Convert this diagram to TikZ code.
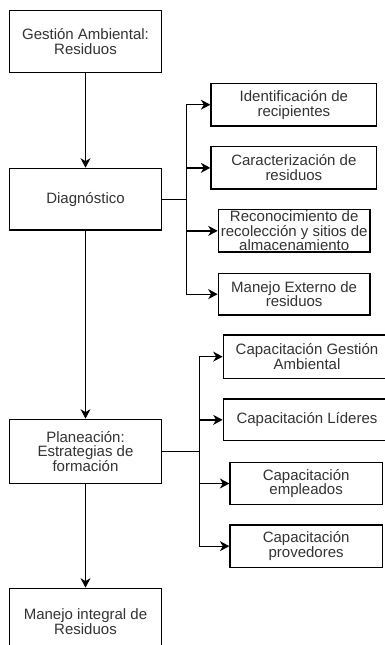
\documentclass[tikz,border=0pt]{standalone}
\usepackage{fontspec}
\setmainfont{Liberation Sans}
\usetikzlibrary{arrows.meta,calc}
\definecolor{txt}{HTML}{333333}
\tikzset{
  box/.style={draw=black, line width=1.3pt, fill=white, text=txt, align=center,
    inner sep=1pt, font=\fontsize{15}{14.7}\selectfont},
  arr/.style={draw=black, line width=1.3pt, -{Stealth[length=9.5pt,width=10pt,inset=3pt]}},
  ln/.style={draw=black, line width=1.3pt}
}
\begin{document}
\begin{tikzpicture}[x=1pt,y=-1pt]
\useasboundingbox (0,0) rectangle (385,645);
\clip (0,0) rectangle (385,645);
% left column
\node[box, minimum width=152.4pt, minimum height=62pt] (g) at (85.5,41.7) {Gestión Ambiental:\\Residuos};
\node[box, minimum width=152.4pt, minimum height=61.7pt] (d) at (85.5,199.2) {Diagnóstico};
\node[box, minimum width=152.4pt, minimum height=64pt] (p) at (85.5,451.3) {Planeación:\\Estrategias de\\formación};
\node[box, minimum width=152.4pt, minimum height=67pt] (m) at (85.5,621.8) {Manejo integral de\\Residuos};
% diagnostic branch
\node[box, minimum width=165.7pt, minimum height=42.7pt] (i1) at (293.85,104.7) {Identificación de\\recipientes};
\node[box, minimum width=165.7pt, minimum height=42.3pt] (i2) at (293.85,167.85) {Caracterización de\\residuos};
\node[box, minimum width=151.7pt, minimum height=41.7pt] (i3) at (294.2,230.85) {Reconocimiento de\\recolección y sitios de\\almacenamiento};
\node[box, minimum width=151.7pt, minimum height=41.7pt] (i4) at (294.15,294.15) {Manejo Externo de\\residuos};
% planning branch
\node[box, minimum width=167.4pt, minimum height=43.3pt] (c1) at (307,356.65) {Capacitación Gestión\\Ambiental};
\node[box, minimum width=167.4pt, minimum height=41.7pt] (c2) at (307,419.85) {Capacitación Líderes};
\node[box, minimum width=152.3pt, minimum height=41.6pt] (c3) at (306.15,483.5) {Capacitación\\empleados};
\node[box, minimum width=152.3pt, minimum height=42.3pt] (c4) at (306.15,546.15) {Capacitación\\provedores};
% main arrows
\draw[arr] (g.south) -- (d.north);
\draw[arr] (d.south) -- (p.north);
\draw[arr] (p.south) -- (m.north);
% bus 1
\coordinate (b1) at ($(d.east)+(24,0)$);
\draw[ln] (d.east) -- (b1);
\draw[arr] (b1) |- (i1.west);
\draw[arr] (b1) |- (i2.west);
\draw[arr] (b1) |- (i3.west);
\draw[arr] (b1) |- (i4.west);
% bus 2
\coordinate (b2) at ($(p.east)+(37.3,0)$);
\draw[ln] (p.east) -- (b2);
\draw[arr] (b2) |- (c1.west);
\draw[arr] (b2) |- (c2.west);
\draw[arr] (b2) |- (c3.west);
\draw[arr] (b2) |- (c4.west);
\end{tikzpicture}
\end{document}
